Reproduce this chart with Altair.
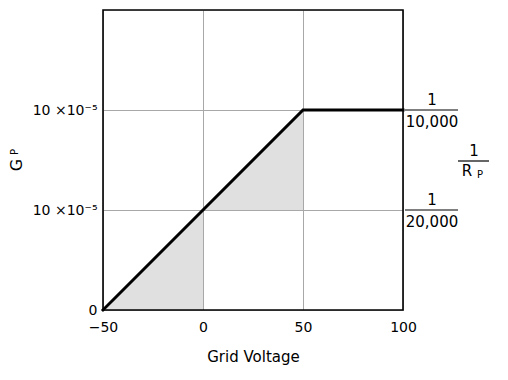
import altair as alt
import pandas as pd

# ---- data ----
grid_voltage = [-50, 50, 100]
conductance = [0, 10, 10]          # in units of 1e-5

shade_x = [-50, 0, 0, 50]
shade_lo = [0, 0, 5, 5]
shade_hi = [0, 5, 5, 10]
shade_group = ["a", "a", "b", "b"]

x_ticks = [-50, 0, 50, 100]
y_ticks = [0, 5, 10]

rp_levels = [10, 5]
rp_numer = ["1", "1"]
rp_denom = ["10,000", "20,000"]

FONT = "DejaVu Sans"

line_df = pd.DataFrame({"v": grid_voltage, "g": conductance})
shade_df = pd.DataFrame({"v": shade_x, "lo": shade_lo, "hi": shade_hi, "grp": shade_group})
rp_df = pd.DataFrame({"lvl": rp_levels, "num": rp_numer, "den": rp_denom})
one = pd.DataFrame({"k": [0]})

xscale = alt.Scale(domain=[-50, 100], nice=False)
yscale = alt.Scale(domain=[0, 15], nice=False)

xax = alt.Axis(values=x_ticks, title="Grid Voltage", labelFont=FONT, labelFontSize=14,
               titleFont=FONT, titleFontSize=15, titleFontWeight="normal", titleColor="black",
               labelColor="black", ticks=False, domain=False, labelPadding=10, titlePadding=15,
               labelFlush=False,
               grid=True, gridColor="#a8a8a8", gridWidth=1,
               labelExpr="replace(datum.label, '-', '−')")
yax = alt.Axis(values=y_ticks, title=None, labelFont=FONT, labelFontSize=14, labelColor="black",
               ticks=False, domain=False, labelPadding=6, labelFlush=False,
               grid=True, gridColor="#a8a8a8", gridWidth=1,
               labelExpr="datum.value == 0 ? '0' : '10 ×10⁻⁵'")

base_grid = alt.Chart(line_df).mark_line(opacity=0).encode(
    x=alt.X("v:Q", scale=xscale, axis=xax),
    y=alt.Y("g:Q", scale=yscale, axis=yax),
)

shade = alt.Chart(shade_df).mark_area(color="#e0e0e0", opacity=1).encode(
    x=alt.X("v:Q", scale=xscale),
    y=alt.Y("lo:Q", scale=yscale),
    y2="hi:Q",
    detail="grp:N",
)

line = alt.Chart(line_df).mark_line(color="black", strokeWidth=3, strokeCap="square").encode(
    x=alt.X("v:Q", scale=xscale),
    y=alt.Y("g:Q", scale=yscale),
)

frame = alt.Chart(one).mark_rect(fill=None, stroke="black", strokeWidth=1.6).encode(
    x=alt.value(0), x2=alt.value(300), y=alt.value(0), y2=alt.value(300)
)

# right-hand fraction labels
bars = alt.Chart(rp_df).mark_rule(color="black", strokeWidth=1.2).encode(
    x=alt.value(302), x2=alt.value(355), y=alt.Y("lvl:Q", scale=yscale)
)
numer = alt.Chart(rp_df).mark_text(font=FONT, fontSize=15, color="black", dy=-10,
                                   baseline="middle").encode(
    x=alt.value(329), y=alt.Y("lvl:Q", scale=yscale), text="num:N"
)
denom = alt.Chart(rp_df).mark_text(font=FONT, fontSize=15, color="black", dy=12,
                                   baseline="middle").encode(
    x=alt.value(329), y=alt.Y("lvl:Q", scale=yscale), text="den:N"
)

rp_bar = alt.Chart(one).mark_rule(color="black", strokeWidth=1.2).encode(
    x=alt.value(355), x2=alt.value(386), y=alt.value(151)
)
rp_one = alt.Chart(one).mark_text(font=FONT, fontSize=15, color="black", baseline="middle").encode(
    x=alt.value(371), y=alt.value(141), text=alt.value("1")
)
rp_R = alt.Chart(one).mark_text(font=FONT, fontSize=15, color="black", baseline="middle").encode(
    x=alt.value(364), y=alt.value(161), text=alt.value("R")
)
rp_P = alt.Chart(one).mark_text(font=FONT, fontSize=10, color="black", baseline="middle").encode(
    x=alt.value(377), y=alt.value(165), text=alt.value("P")
)

# left-hand title G_P (rotated)
g_G = alt.Chart(one).mark_text(font=FONT, fontSize=16, color="black", baseline="middle",
                               angle=270).encode(
    x=alt.value(-86), y=alt.value(155), text=alt.value("G")
)
g_P = alt.Chart(one).mark_text(font=FONT, fontSize=10, color="black", baseline="middle",
                               angle=270).encode(
    x=alt.value(-88), y=alt.value(142), text=alt.value("P")
)

chart = alt.layer(
    base_grid, shade, line, frame, bars, numer, denom, rp_bar, rp_one, rp_R, rp_P, g_G, g_P
).properties(
    width=300, height=300,
    autosize=alt.AutoSizeParams(type="none"),
    padding={"left": 95, "top": 2, "right": 97, "bottom": 62},
).configure_view(
    stroke=None
).configure(background="white")

chart.save("out.html", embed_options={"renderer": "svg", "actions": False})
